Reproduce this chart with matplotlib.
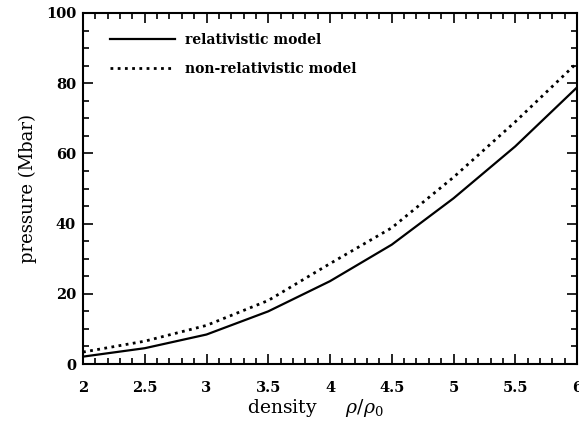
import matplotlib
matplotlib.use("Agg")
import matplotlib.pyplot as plt
from matplotlib.ticker import MultipleLocator, FuncFormatter

# data
density = [2.0, 2.5, 3.0, 3.5, 4.0, 4.5, 5.0, 5.5, 6.0]
relativistic = [2.1, 4.5, 8.4, 15.0, 23.6, 34.0, 47.2, 62.0, 78.8]
non_relativistic = [3.4, 6.5, 11.0, 18.1, 28.6, 38.8, 53.2, 69.0, 85.8]
labels = ["relativistic model", "non-relativistic model"]

plt.rcParams['mathtext.fontset'] = 'dejavuserif'

fig = plt.figure(figsize=(5.79, 4.30), dpi=100)
ax = fig.add_axes([83/579, 1-364/430, (577-83)/579, (364-13)/430])

ax.plot(density, relativistic, color='black', lw=1.6, ls='-', label=labels[0])
ax.plot(density, non_relativistic, color='black', lw=2.0, ls=(0, (1, 1.6)), label=labels[1])

ax.set_xlim(2, 6)
ax.set_ylim(0, 100)
ax.xaxis.set_major_locator(MultipleLocator(0.5))
ax.xaxis.set_minor_locator(MultipleLocator(0.1))
ax.yaxis.set_major_locator(MultipleLocator(20))
ax.yaxis.set_minor_locator(MultipleLocator(5))
ax.xaxis.set_major_formatter(FuncFormatter(lambda v, p: f"{v:g}"))

ax.tick_params(which='both', direction='in', top=True, right=True, width=1.2)
ax.tick_params(which='major', length=7)
ax.tick_params(which='minor', length=4)
ax.tick_params(axis='x', which='major', pad=12)
ax.tick_params(axis='y', which='major', pad=5)
for lab in ax.get_xticklabels() + ax.get_yticklabels():
    lab.set_fontfamily('DejaVu Serif')
    lab.set_fontweight('bold')
    lab.set_fontsize(10.5)
for s in ax.spines.values():
    s.set_linewidth(1.5)

ax.set_ylabel('pressure (Mbar)', family='DejaVu Serif', fontsize=13, labelpad=6)
ax.set_xlabel(r'density     $\rho/\rho_{\mathit{0}}$', family='DejaVu Serif', fontsize=13.5, labelpad=3)
ax.xaxis.set_label_coords((315-83)/(577-83), -0.095)
ax.xaxis.label.set_verticalalignment('top')

leg = ax.legend(loc='upper left', bbox_to_anchor=(110/579, 1-33/430), bbox_transform=fig.transFigure,
                frameon=False, handlelength=4.7, handletextpad=0.72, labelspacing=1.08,
                borderpad=0, borderaxespad=0,
                prop={'family': 'DejaVu Serif', 'weight': 'bold', 'size': 10})

fig.savefig('out.png', dpi=100)
